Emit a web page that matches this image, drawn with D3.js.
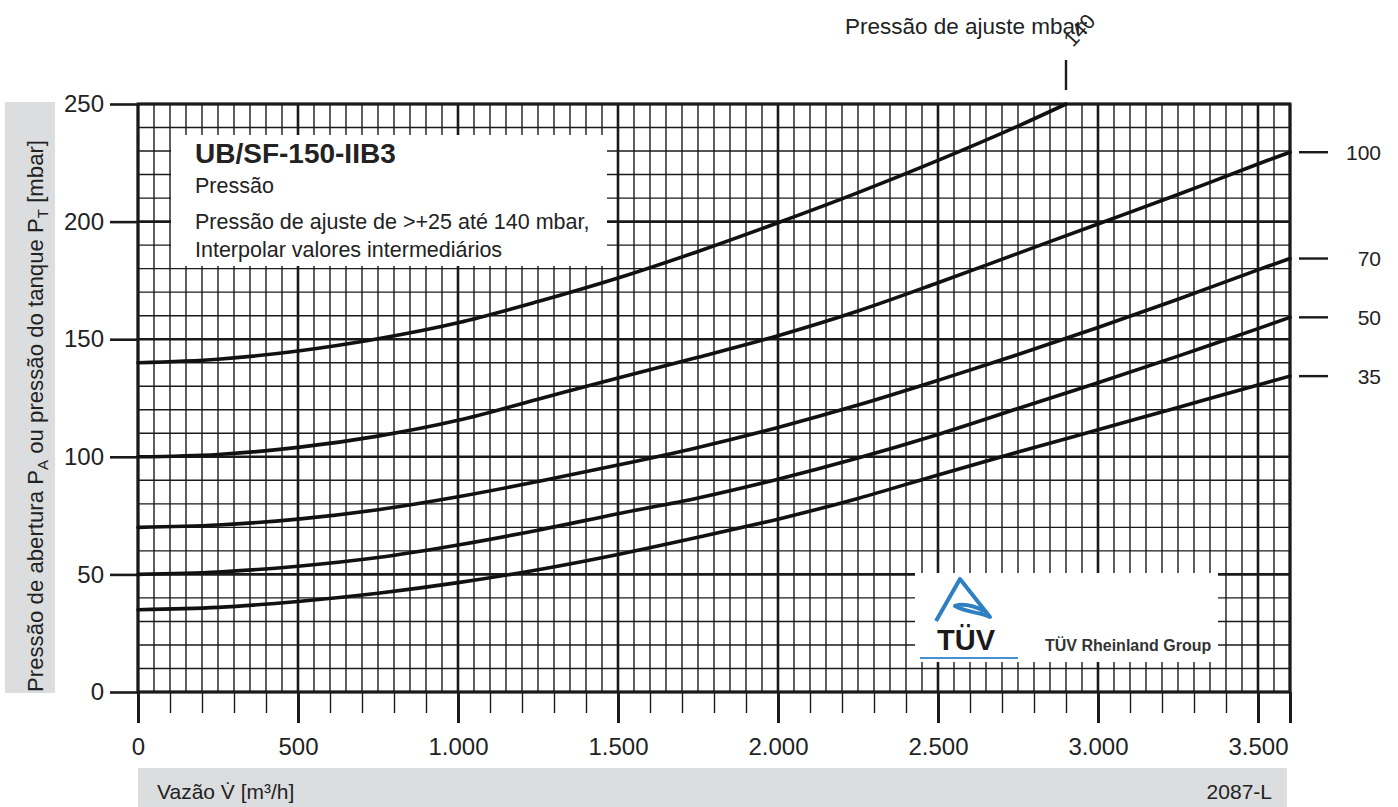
<!DOCTYPE html>
<html>
<head>
<meta charset="utf-8">
<script src="https://cdn.jsdelivr.net/npm/d3@7"></script>
<style>
    html, body { margin: 0; padding: 0; background: #fff; }
    svg { display: block; font-family: "Liberation Sans", Arial, sans-serif; }
</style>
</head>
<body>
<svg id="chart"></svg>
<script>
// Flow (m³/h) and pressure (mbar) axis data
const flowTicks = [0, 500, 1000, 1500, 2000, 2500, 3000, 3500];
const flowLabels = ["0", "500", "1.000", "1.500", "2.000", "2.500", "3.000", "3.500"];
const pressureTicks = [0, 50, 100, 150, 200, 250];

// Curves: opening pressure vs. flow, one per set pressure
const setPressures = [35, 50, 70, 100, 140];
const flowPoints = [0, 250, 500, 750, 1000, 1250, 1500, 1750, 2000, 2250, 2500, 2750, 3000, 3250, 3500, 3600];
const flowPoints140 = [0, 250, 500, 750, 1000, 1250, 1500, 1750, 2000, 2250, 2500, 2750, 2900];
const curve35 = [35, 36, 38.5, 42, 46.5, 52, 58.5, 65.8, 73.5, 82.3, 92.3, 102, 111.5, 121, 130.5, 134.3];
const curve50 = [50, 51, 53.5, 57.2, 62.5, 68.8, 75.8, 82.5, 90.5, 99.5, 109.5, 120.5, 131.5, 142.8, 154.5, 159.3];
const curve70 = [70, 71, 73.5, 77.5, 83, 89.5, 96.5, 104, 112.5, 122, 132.5, 143.5, 155, 167, 179.5, 184.3];
const curve100 = [100, 101, 104, 108.8, 115.5, 124.5, 133.5, 142.3, 151.5, 162, 174, 186.5, 199, 211.5, 224.5, 229.5];
const curve140 = [140, 141.5, 145, 150.2, 157, 166, 176, 187.3, 199.5, 212.3, 226, 240.6, 250];

const W = 1398, H = 807;
const INK = "#1a1a1a";
const FONT = "'Liberation Sans', Arial, sans-serif";

const svg = d3.select('#chart').attr('width', W).attr('height', H);

const x = d3.scaleLinear().domain([0, 3600]).range([138, 1290]);
const y = d3.scaleLinear().domain([0, 250]).range([692, 104]);

// Gray label boxes
svg.append('rect').attr('x', 5).attr('y', 102).attr('width', 50).attr('height', 591).attr('fill', '#dcdddf');
svg.append('rect').attr('x', 138).attr('y', 768).attr('width', 1149).attr('height', 39).attr('fill', '#dcdddf');

// Grid
const grid = svg.append('g');
grid.selectAll('line.vx')
    .data(d3.range(0, 3601, 50))
    .join('line')
    .attr('x1', d => x(d)).attr('x2', d => x(d))
    .attr('y1', y(250)).attr('y2', y(0))
    .attr('stroke', INK)
    .attr('stroke-width', d => d % 500 === 0 || d === 3600 ? 2.6 : 1.4);

grid.selectAll('line.hy')
    .data(d3.range(0, 251, 10))
    .join('line')
    .attr('x1', x(0)).attr('x2', x(3600))
    .attr('y1', d => y(d)).attr('y2', d => y(d))
    .attr('stroke', INK)
    .attr('stroke-width', d => d % 50 === 0 ? 2.6 : 1.4);

// Outer frame
grid.append('rect')
    .attr('x', x(0)).attr('y', y(250))
    .attr('width', x(3600) - x(0)).attr('height', y(0) - y(250))
    .attr('fill', 'none').attr('stroke', INK).attr('stroke-width', 3);

// Axes
const minorX = svg.append('g')
    .attr('transform', `translate(0,${y(0)})`)
    .call(d3.axisBottom(x).tickValues(d3.range(0, 3601, 100)).tickSize(21).tickFormat(''));
minorX.select('.domain').remove();
minorX.selectAll('line').attr('stroke', INK).attr('stroke-width', 1.4);

const majorX = svg.append('g')
    .attr('transform', `translate(0,${y(0)})`)
    .call(d3.axisBottom(x).tickValues(flowTicks.concat([3600])).tickSize(31).tickPadding(15)
        .tickFormat(d => { const i = flowTicks.indexOf(d); return i < 0 ? '' : flowLabels[i]; }));
majorX.select('.domain').remove();
majorX.selectAll('line').attr('stroke', INK).attr('stroke-width', 3);
majorX.selectAll('text').attr('font-size', 24).attr('font-family', FONT).attr('fill', '#222');

const yAxis = svg.append('g')
    .attr('transform', `translate(${x(0)},0)`)
    .call(d3.axisLeft(y).tickValues(pressureTicks).tickSize(28).tickPadding(6));
yAxis.select('.domain').remove();
yAxis.selectAll('line').attr('stroke', INK).attr('stroke-width', 2.6);
yAxis.selectAll('text').attr('font-size', 24).attr('font-family', FONT).attr('fill', '#222');

// Title box
svg.append('rect').attr('x', 171).attr('y', 135).attr('width', 436).attr('height', 131).attr('fill', '#fff');
const tb = svg.append('g').attr('fill', '#222').attr('font-family', FONT);
tb.append('text').attr('x', 195).attr('y', 163).attr('font-size', 28).attr('font-weight', 'bold').text('UB/SF-150-IIB3');
tb.append('text').attr('x', 195).attr('y', 193).attr('font-size', 21.5).text('Pressão');
tb.append('text').attr('x', 195).attr('y', 229).attr('font-size', 21.5).text('Pressão de ajuste de >+25 até 140 mbar,');
tb.append('text').attr('x', 195).attr('y', 257).attr('font-size', 21.5).text('Interpolar valores intermediários');

// TÜV logo box
svg.append('rect').attr('x', 915).attr('y', 573).attr('width', 303).attr('height', 89).attr('fill', '#fff');
const logo = svg.append('g');
logo.append('path')
    .attr('d', 'M936,621 L960,579 L990,617 C980,612 968,613 955,606 C964,603 974,606 984,611')
    .attr('fill', 'none').attr('stroke', '#2f80c3').attr('stroke-width', 4).attr('stroke-linejoin', 'round');
logo.append('text').attr('x', 937).attr('y', 650).attr('font-size', 29).attr('font-weight', 'bold')
    .attr('font-family', FONT).attr('fill', INK).text('TÜV');
logo.append('line').attr('x1', 920).attr('x2', 1018).attr('y1', 658).attr('y2', 658)
    .attr('stroke', '#4a8fd0').attr('stroke-width', 2);
logo.append('text').attr('x', 1045).attr('y', 651).attr('font-size', 16).attr('font-weight', 'bold')
    .attr('font-family', FONT).attr('fill', '#333').text('TÜV Rheinland Group');

// Curves
const series = [
    { p: 35, xs: flowPoints, ys: curve35 },
    { p: 50, xs: flowPoints, ys: curve50 },
    { p: 70, xs: flowPoints, ys: curve70 },
    { p: 100, xs: flowPoints, ys: curve100 },
    { p: 140, xs: flowPoints140, ys: curve140 },
];
const line = d3.line().x(d => x(d[0])).y(d => y(d[1])).curve(d3.curveCatmullRom.alpha(0.5));
svg.append('g')
    .selectAll('path')
    .data(series)
    .join('path')
    .attr('d', s => line(s.xs.map((v, i) => [v, s.ys[i]])))
    .attr('fill', 'none')
    .attr('stroke', '#111')
    .attr('stroke-width', 3.6)
    .attr('stroke-linecap', 'round');

// Right-hand set pressure labels
const right = svg.append('g').attr('font-family', FONT).attr('fill', '#222');
series.filter(s => s.p !== 140).forEach(s => {
    const yy = y(s.ys[s.ys.length - 1]);
    right.append('line').attr('x1', 1299).attr('x2', 1328).attr('y1', yy).attr('y2', yy)
        .attr('stroke', INK).attr('stroke-width', 2.4);
    right.append('text').attr('x', 1381).attr('y', yy).attr('dy', '0.36em')
        .attr('text-anchor', 'end').attr('font-size', 21).text(s.p);
});

// Top label for 140 curve
const s140 = series.find(s => s.p === 140);
const x140 = x(s140.xs[s140.xs.length - 1]);
svg.append('line').attr('x1', x140).attr('x2', x140).attr('y1', 60).attr('y2', 90)
    .attr('stroke', INK).attr('stroke-width', 2.4);
svg.append('text').attr('x', 845).attr('y', 34).attr('font-size', 22.5).attr('font-family', FONT)
    .attr('fill', '#222').text('Pressão de ajuste mbar:');
svg.append('text').attr('transform', `translate(${x140 + 7},48) rotate(-48)`)
    .attr('font-size', 21).attr('font-family', FONT).attr('fill', '#222').text('140');

// Axis titles
const yt = svg.append('text')
    .attr('transform', 'translate(43,692) rotate(-90)')
    .attr('font-size', 22.2).attr('font-family', FONT).attr('fill', '#222');
yt.append('tspan').text('Pressão de abertura P');
yt.append('tspan').attr('font-size', 15).attr('dy', 5).text('A');
yt.append('tspan').attr('dy', -5).text(' ou pressão do tanque P');
yt.append('tspan').attr('font-size', 15).attr('dy', 5).text('T');
yt.append('tspan').attr('dy', -5).text(' [mbar]');

svg.append('text').attr('x', 157).attr('y', 799).attr('font-size', 21).attr('font-family', FONT)
    .attr('fill', '#222').text('Vazão V\u0307 [m³/h]');
svg.append('text').attr('x', 1272).attr('y', 799).attr('text-anchor', 'end').attr('font-size', 21)
    .attr('font-family', FONT).attr('fill', '#222').text('2087-L');
</script>
</body>
</html>
